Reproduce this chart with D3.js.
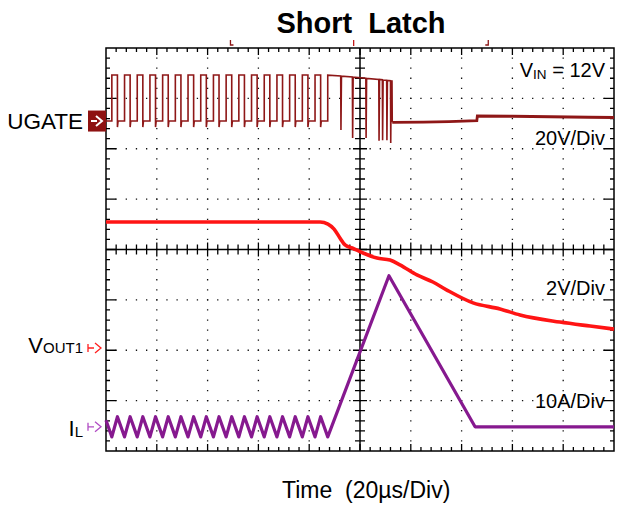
<!DOCTYPE html>
<html>
<head>
<meta charset="utf-8">
<script src="https://cdn.jsdelivr.net/npm/d3@7"></script>
<style>
  body { margin: 0; background: #fff; }
  svg { display: block; font-family: "Liberation Sans", Arial, sans-serif; }
  svg text { white-space: pre; }
</style>
</head>
<body>
<svg id="chart" width="618" height="509"></svg>
<script>
// ---- Captured waveform data (time in µs, 20 µs/div) ----

// UGATE switching pulses: [rise, fall] times in µs
const ugatePulses = [
  [2.3, 4.5], [7.3, 9.5], [12.3, 14.5], [17.3, 19.5], [22.3, 24.5],
  [27.3, 29.5], [32.3, 34.5], [37.3, 39.5], [42.3, 44.5], [47.3, 49.5],
  [52.3, 54.5], [57.3, 59.5], [62.3, 64.5], [67.3, 69.5], [72.3, 74.5],
  [77.3, 79.5], [82.3, 84.5]
];
const ugateHigh = 18.3;      // V
const ugateUndershoot = -2.4; // V
// UGATE after the last regular pulse: stays on, with short dips, then latches off
const ugateLatch = [
  [87.3, 0], [87.3, 18.2], [92.4, 17.9], [92.5, -3.6], [92.7, 17.8],
  [97.0, 17.5], [97.1, -6.7], [97.3, 17.4], [102.3, 17.0], [102.4, -6.7],
  [102.6, 16.9], [107.4, 16.5], [107.5, -7.8], [107.7, 16.5], [108.8, 16.4],
  [108.9, -7.6], [109.1, 16.3], [110.5, 16.2], [110.6, -7.6], [110.8, 16.1],
  [112.0, 16.0], [112.1, -8.7], [112.3, 15.9], [112.6, 15.9], [112.7, -0.5]
];
const ugateOff = [
  [112.7, -0.5], [125, -0.4], [135, -0.2], [146.0, 0.2], [146.2, 2.0],
  [160, 1.9], [175, 1.7], [190, 1.5], [200, 1.4]
];

// VOUT1 (V)
const voutPoints = [
  [0, 5.0], [84.3, 5.0], [87.4, 4.92], [89.8, 4.72], [92.1, 4.37], [94.1, 4.09],
  [96.9, 3.97], [101.2, 3.77], [106.7, 3.57], [111.8, 3.49], [115.7, 3.30],
  [122.4, 2.90], [128.7, 2.62], [134.2, 2.30], [144.5, 1.79], [155.1, 1.55],
  [163.0, 1.31], [178.7, 1.03], [190.6, 0.87], [200, 0.75]
];

// Inductor current IL (A)
const ilPoints = [
  [0, 1.3], [2.3, -2], [4.5, 2], [7.3, -2], [9.5, 2], [12.3, -2], [14.5, 2],
  [17.3, -2], [19.5, 2], [22.3, -2], [24.5, 2], [27.3, -2], [29.5, 2],
  [32.3, -2], [34.5, 2], [37.3, -2], [39.5, 2], [42.3, -2], [44.5, 2],
  [47.3, -2], [49.5, 2], [52.3, -2], [54.5, 2], [57.3, -2], [59.5, 2],
  [62.3, -2], [64.5, 2], [67.3, -2], [69.5, 2], [72.3, -2], [74.5, 2],
  [77.3, -2], [79.5, 2], [82.3, -2], [84.5, 2], [87.3, -2],
  [111.4, 30], [145.3, 0], [200, 0]
];

// Text
const titleText = "Short  Latch";
const xAxisLabel = "Time  (20\u00B5s/Div)";
const scaleLabels = ["20V/Div", "2V/Div", "10A/Div"];

// ---- Layout ----
const svg = d3.select("#chart");
const pL = 106, pR = 614, pT = 48, pB = 451;
const xDivs = 10, yDivs = 8, minorPerDiv = 5;
const x = d3.scaleLinear().domain([0, 200]).range([pL, pR]);
const yDiv = d3.scaleLinear().domain([-yDivs / 2, yDivs / 2]).range([pB, pT]);
const dxDiv = (pR - pL) / xDivs, dyDiv = (pB - pT) / yDivs;

// Channel settings: zero position in divisions from centre, units per division
const chUgate = { offset: 2.55, perDiv: 20 };
const chVout = { offset: -1.955, perDiv: 2 };
const chIl = { offset: -3.52, perDiv: 10 };
const yFor = ch => v => yDiv(ch.offset + v / ch.perDiv);

// ---- Graticule ----
const grid = svg.append("g");
// dotted division lines
for (let i = 1; i < xDivs; i++) {
  if (i === xDivs / 2) continue;
  const gx = pL + i * dxDiv;
  grid.append("line").attr("x1", gx).attr("x2", gx).attr("y1", pT).attr("y2", pB)
    .attr("stroke", "#111").attr("stroke-width", 1.3)
    .attr("stroke-dasharray", `1.3 ${dyDiv / minorPerDiv - 1.3}`)
    .attr("stroke-dashoffset", 0.65);
}
for (let j = 1; j < yDivs; j++) {
  if (j === yDivs / 2) continue;
  const gy = pT + j * dyDiv;
  grid.append("line").attr("x1", pL).attr("x2", pR).attr("y1", gy).attr("y2", gy)
    .attr("stroke", "#111").attr("stroke-width", 1.3)
    .attr("stroke-dasharray", `1.3 ${dxDiv / minorPerDiv - 1.3}`)
    .attr("stroke-dashoffset", 0.65);
}
// centre cross with ticks
const cx = (pL + pR) / 2, cy = (pT + pB) / 2;
grid.append("line").attr("x1", pL).attr("x2", pR).attr("y1", cy).attr("y2", cy)
  .attr("stroke", "#000").attr("stroke-width", 1.5);
grid.append("line").attr("x1", cx).attr("x2", cx).attr("y1", pT).attr("y2", pB)
  .attr("stroke", "#000").attr("stroke-width", 1.5);
const tickPath = d3.path();
for (let k = 1; k < xDivs * minorPerDiv; k++) {
  const tx = pL + k * dxDiv / minorPerDiv;
  const major = k % minorPerDiv === 0;
  const lenC = major ? 7 : 5;
  tickPath.moveTo(tx, cy - lenC); tickPath.lineTo(tx, cy + lenC);
  const lenE = major ? 7 : 4;
  tickPath.moveTo(tx, pT); tickPath.lineTo(tx, pT + lenE);
  tickPath.moveTo(tx, pB); tickPath.lineTo(tx, pB - lenE);
}
for (let k = 1; k < yDivs * minorPerDiv; k++) {
  const ty = pT + k * dyDiv / minorPerDiv;
  const major = k % minorPerDiv === 0;
  const lenC = major ? 7 : 5;
  tickPath.moveTo(cx - lenC, ty); tickPath.lineTo(cx + lenC, ty);
  const lenE = major ? 10 : 4;
  tickPath.moveTo(pL, ty); tickPath.lineTo(pL + lenE, ty);
  tickPath.moveTo(pR, ty); tickPath.lineTo(pR - lenE, ty);
}
grid.append("path").attr("d", tickPath.toString()).attr("stroke", "#000")
  .attr("stroke-width", 1.3).attr("fill", "none");
grid.append("rect").attr("x", pL).attr("y", pT)
  .attr("width", pR - pL).attr("height", pB - pT)
  .attr("fill", "none").attr("stroke", "#000").attr("stroke-width", 1.5);

// ---- Traces ----
const traces = svg.append("g");

const yU = yFor(chUgate);
const ugateLine = d3.line().x(d => x(d[0])).y(d => yU(d[1]));
const ugateSwitching = [[0, 0]];
ugatePulses.forEach(([r, f]) => {
  ugateSwitching.push([r, 0], [r, ugateHigh], [f, ugateHigh], [f, ugateUndershoot], [f + 0.25, 0]);
});
traces.append("path").datum(ugateSwitching.concat(ugateLatch))
  .attr("d", ugateLine).attr("fill", "none").attr("stroke", "#8e1717")
  .attr("stroke-width", 1.6).attr("stroke-linejoin", "miter");
traces.append("path").datum(ugateOff)
  .attr("d", ugateLine).attr("fill", "none").attr("stroke", "#8e1717")
  .attr("stroke-width", 2.8);

const yV = yFor(chVout);
traces.append("path").datum(voutPoints)
  .attr("d", d3.line().x(d => x(d[0])).y(d => yV(d[1])).curve(d3.curveMonotoneX))
  .attr("fill", "none").attr("stroke", "#ff1414").attr("stroke-width", 3.6);

const yI = yFor(chIl);
traces.append("path").datum(ilPoints)
  .attr("d", d3.line().x(d => x(d[0])).y(d => yI(d[1])))
  .attr("fill", "none").attr("stroke", "#86198f").attr("stroke-width", 3.2)
  .attr("stroke-linejoin", "round");

// ---- Trigger markers above the graticule ----
const marks = svg.append("g").attr("fill", "none").attr("stroke-width", 1.3);
marks.append("path").attr("d", `M${x(49)},40 V45 H${x(49) + 3}`).attr("stroke", "#8e1717");
marks.append("path").attr("d", `M${x(97.5)},40 V46`).attr("stroke", "#c21a1a");
marks.append("path").attr("d", `M${x(150.5)},40 V45 H${x(150.5) - 3}`).attr("stroke", "#8e1717");

// ---- Channel markers and labels on the left ----
const lab = svg.append("g");
const yUg = yU(0), yVo = yV(0), yIl = yI(0);
lab.append("rect").attr("x", 88).attr("y", yUg - 10.5).attr("width", 18).attr("height", 21)
  .attr("fill", "#8e1212");
lab.append("path").attr("d", `M91,${yUg} H97 M96,${yUg - 5} L102,${yUg} L96,${yUg + 5}`)
  .attr("stroke", "#fff").attr("stroke-width", 2).attr("fill", "none");
const outlineMarker = (yy, color) => lab.append("path")
  .attr("d", `M88,${yy - 4} V${yy + 4} M88,${yy} H94 M95,${yy - 5} L101,${yy} L95,${yy + 5}`)
  .attr("stroke", color).attr("stroke-width", 1.3).attr("fill", "none");
outlineMarker(yVo, "#ff2020");
outlineMarker(yIl, "#b14cc4");

lab.append("text").attr("x", 83).attr("y", yUg + 8).attr("text-anchor", "end")
  .attr("font-size", 22.5).text("UGATE");
const tv = lab.append("text").attr("x", 83).attr("y", yVo + 5).attr("text-anchor", "end")
  .attr("font-size", 22);
tv.append("tspan").text("V");
tv.append("tspan").attr("font-size", 15).text("OUT1");
const ti = lab.append("text").attr("x", 83).attr("y", yIl + 9).attr("text-anchor", "end")
  .attr("font-size", 22);
ti.append("tspan").text("I");
ti.append("tspan").attr("font-size", 15).attr("dy", 1).text("L");

// ---- Right-side annotations ----
const ann = svg.append("g").attr("text-anchor", "end").attr("font-size", 20);
const vin = ann.append("text").attr("x", 605).attr("y", 77);
vin.append("tspan").text("V");
vin.append("tspan").attr("font-size", 13.5).attr("dy", 2).text("IN");
vin.append("tspan").attr("dy", -2).text(" = 12V");
ann.append("text").attr("x", 605).attr("y", 145).text(scaleLabels[0]);
ann.append("text").attr("x", 605).attr("y", 295).text(scaleLabels[1]);
ann.append("text").attr("x", 605).attr("y", 408).text(scaleLabels[2]);

// ---- Title and time label ----
svg.append("text").attr("x", 361).attr("y", 33).attr("text-anchor", "middle")
  .attr("font-size", 29).attr("font-weight", "bold").text(titleText);
svg.append("text").attr("x", 282).attr("y", 498).attr("font-size", 23).text(xAxisLabel);
</script>
</body>
</html>
